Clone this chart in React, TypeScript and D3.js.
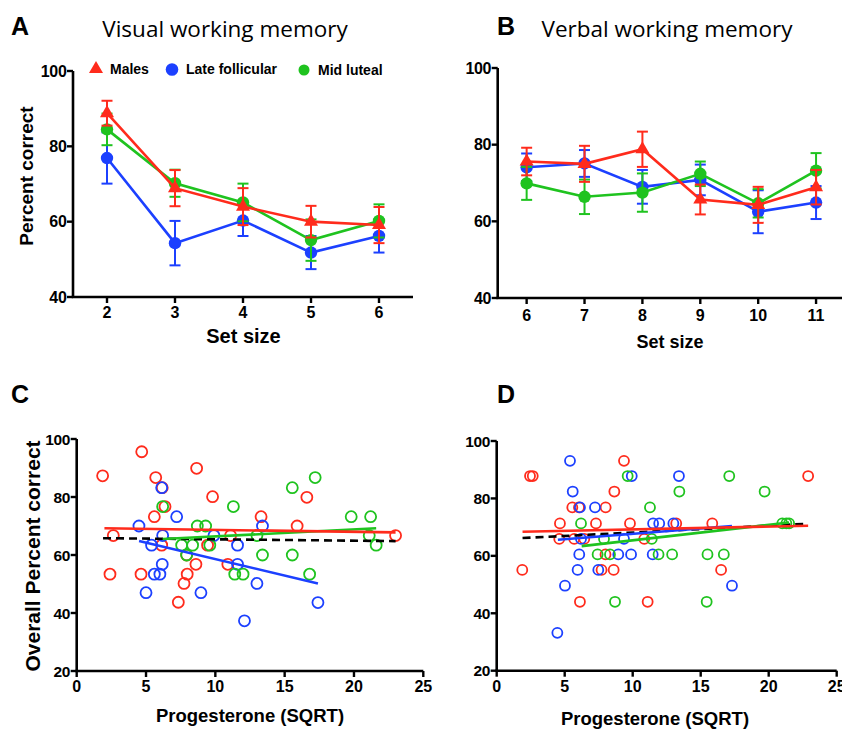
import React from "react";
import * as d3 from "d3";

const RED = "#ff2b1c";
const BLUE = "#1c40ff";
const GREEN = "#1fc31f";

// Panel A: visual working memory
const setSizesA = [2, 3, 4, 5, 6];
const malesA = [88.8, 68.9, 64.0, 60.0, 59.1];
const malesErrA = [3.3, 4.8, 4.9, 4.2, 4.8];
const lateFollA = [76.9, 54.3, 60.3, 51.8, 56.2];
const lateFollErrA = [6.8, 5.9, 4.1, 4.4, 4.4];
const midLutA = [84.5, 70.2, 65.1, 55.1, 60.2];
const midLutErrA = [4.2, 3.6, 5.0, 5.5, 4.4];

// Panel B: verbal working memory
const setSizesB = [6, 7, 8, 9, 10, 11];
const malesB = [75.6, 75.0, 78.8, 65.7, 64.3, 68.9];
const malesErrB = [3.6, 4.7, 4.6, 3.9, 4.7, 4.5];
const lateFollB = [74.1, 75.1, 69.0, 70.8, 62.5, 64.9];
const lateFollErrB = [3.6, 3.5, 4.4, 4.0, 5.6, 4.3];
const midLutB = [69.9, 66.4, 67.5, 72.4, 64.7, 73.2];
const midLutErrB = [4.3, 4.5, 5.0, 3.2, 3.7, 4.6];

const yTicksTop = [40, 60, 80, 100];
const yTicksBottom = [20, 40, 60, 80, 100];
const xTicksBottom = [0, 5, 10, 15, 20, 25];

// Panel C scatter [progesterone sqrt, overall percent]
const cMales: [number, number][] = [
  [1.87, 87.3], [4.69, 95.6], [2.64, 66.7], [2.4, 53.4], [5.7, 86.7], [6.17, 83.2],
  [6.37, 76.7], [5.6, 73.2], [8.65, 89.9], [9.8, 80.1], [6.13, 63.4], [7.93, 60],
  [4.64, 53.4], [8.6, 56.8], [7.97, 53.4], [7.74, 50.2], [7.33, 43.7], [9.44, 63.4],
  [11.1, 66.7], [10.9, 56.8], [13.3, 73.2], [16.6, 79.9], [15.9, 70], [23.0, 66.7],
];
const cLateFoll: [number, number][] = [
  [4.49, 70], [6.13, 83.2], [7.21, 73.2], [6.2, 66.7], [5.4, 63.4], [6.17, 56.8],
  [5.6, 53.4], [6.0, 53.4], [5.0, 47], [8.96, 47], [9.9, 66.7], [11.6, 63.4],
  [11.6, 56.8], [13.0, 50.2], [13.4, 70], [12.1, 37.3], [17.4, 43.6],
];
const cMidLut: [number, number][] = [
  [6.2, 76.7], [8.7, 70], [9.3, 70], [7.57, 63.4], [8.36, 63.4], [9.6, 63.4],
  [7.93, 60], [11.3, 76.7], [11.4, 53.4], [12.0, 53.4], [13.0, 66.7], [13.4, 60],
  [15.55, 83.2], [17.2, 86.7], [15.55, 60], [16.8, 53.4], [19.8, 73.2], [21.2, 73.2],
  [21.1, 66.7], [21.6, 63.4],
];
const cFitMales: [number, number][] = [[2.0, 69.2], [23.0, 67.8]];
const cFitAll: [number, number][] = [[1.9, 65.8], [23.0, 64.8]];
const cFitMidLut: [number, number][] = [[6.2, 65.5], [21.6, 69.2]];
const cFitLateFoll: [number, number][] = [[4.5, 64.8], [17.4, 50.2]];

// Panel D scatter
const dMales: [number, number][] = [
  [2.45, 87.8], [2.65, 87.8], [1.88, 55.1], [9.36, 93.1], [8.65, 82.4], [5.56, 76.9],
  [6.05, 76.9], [8.01, 76.9], [4.65, 71.3], [7.3, 71.3], [9.8, 71.3], [4.6, 65.9],
  [5.7, 65.9], [6.44, 65.9], [10.85, 65.9], [8.0, 60.5], [7.71, 55.1], [8.6, 55.1],
  [6.12, 44.0], [11.1, 44.0], [13.2, 71.3], [15.85, 71.3], [16.5, 55.1], [22.9, 87.8],
];
const dLateFoll: [number, number][] = [
  [5.39, 93.1], [5.59, 82.4], [9.93, 87.8], [6.12, 76.9], [7.23, 76.9], [6.2, 65.9],
  [9.36, 65.9], [11.5, 71.3], [11.95, 71.3], [12.99, 71.3], [6.07, 60.5], [8.94, 60.5],
  [9.88, 60.5], [11.47, 60.5], [5.95, 55.1], [7.47, 55.1], [5.02, 49.6], [13.4, 87.8],
  [17.3, 49.6], [4.46, 33.2],
];
const dMidLut: [number, number][] = [
  [9.63, 87.8], [11.27, 76.9], [6.2, 71.3], [7.89, 65.9], [11.4, 65.9], [7.42, 60.5],
  [8.33, 60.5], [11.9, 60.5], [12.9, 60.5], [15.5, 60.5], [16.7, 60.5], [8.7, 44],
  [15.44, 44], [17.1, 87.8], [13.43, 82.4], [19.7, 82.4], [21.0, 71.3], [21.3, 71.3],
  [21.5, 71.3],
];
const dFitMales: [number, number][] = [[1.9, 68.4], [22.9, 70.5]];
const dFitAll: [number, number][] = [[1.9, 66.2], [22.9, 71.2]];
const dFitMidLut: [number, number][] = [[6.25, 63.4], [21.5, 71.6]];
const dFitLateFoll: [number, number][] = [[4.5, 65.6], [17.3, 70.4]];

const legendItems = ["Males", "Late follicular", "Mid luteal"];

const NUM_FONT = "'Liberation Sans', Arial, sans-serif";
const TITLE_FONT = "'Open Sans', 'Noto Sans', sans-serif";

type Sc = d3.ScaleLinear<number, number>;

function YAxis({ x, y, ticks, size = 16 }: { x: Sc; y: Sc; ticks: number[]; size?: number }) {
  const x0 = x.range()[0];
  const [lo, hi] = d3.extent(ticks) as [number, number];
  return (
    <g>
      <line x1={x0} x2={x0} y1={y(lo)} y2={y(hi)} stroke="#000" strokeWidth={2.6} />
      {ticks.map((t) => (
        <g key={t}>
          <line x1={x0 - 6} x2={x0} y1={y(t)} y2={y(t)} stroke="#000" strokeWidth={2.4} />
          <text x={x0 - 6.5} y={y(t)} dy="0.36em" textAnchor="end" fontFamily={NUM_FONT}
            fontWeight="bold" fontSize={size} letterSpacing={-0.3}>{t}</text>
        </g>
      ))}
    </g>
  );
}

function XAxis({ x, y, ticks, labelY, size = 16, extendTo }: { x: Sc; y: Sc; ticks: number[]; labelY: number; size?: number; extendTo?: number }) {
  const y0 = y.range()[0];
  const [a, b] = x.range();
  return (
    <g>
      <line x1={a - 1.3} x2={extendTo ?? b} y1={y0} y2={y0} stroke="#000" strokeWidth={2.6} />
      {ticks.map((t) => (
        <g key={t}>
          <line x1={x(t)} x2={x(t)} y1={y0} y2={y0 + 6} stroke="#000" strokeWidth={2.4} />
          <text x={x(t)} y={labelY} textAnchor="middle" fontFamily={NUM_FONT}
            fontWeight="bold" fontSize={size}>{t}</text>
        </g>
      ))}
    </g>
  );
}

const tri = d3.symbol().type(d3.symbolTriangle).size(85)();

function Marker({ cx, cy, kind, color, r = 6.2 }: { cx: number; cy: number; kind: string; color: string; r?: number }) {
  if (kind === "tri") return <path d={tri as string} transform={`translate(${cx},${cy})`} fill={color} />;
  return <circle cx={cx} cy={cy} r={r} fill={color} />;
}

function Series({ x, y, xs, means, errs, color, kind }: { x: Sc; y: Sc; xs: number[]; means: number[]; errs: number[]; color: string; kind: string }) {
  const line = d3.line<number>().x((_, i) => x(xs[i])).y((d) => y(d));
  return (
    <g>
      {means.map((m, i) => (
        <g key={i} stroke={color} strokeWidth={2}>
          <line x1={x(xs[i])} x2={x(xs[i])} y1={y(m - errs[i])} y2={y(m + errs[i])} />
          <line x1={x(xs[i]) - 5.5} x2={x(xs[i]) + 5.5} y1={y(m - errs[i])} y2={y(m - errs[i])} />
          <line x1={x(xs[i]) - 5.5} x2={x(xs[i]) + 5.5} y1={y(m + errs[i])} y2={y(m + errs[i])} />
        </g>
      ))}
      <path d={line(means) as string} fill="none" stroke={color} strokeWidth={2.6} />
      {means.map((m, i) => (
        <Marker key={i} cx={x(xs[i])} cy={y(m)} kind={kind} color={color} />
      ))}
    </g>
  );
}

function Scatter({ x, y, pts, color, r }: { x: Sc; y: Sc; pts: [number, number][]; color: string; r: number }) {
  return (
    <g fill="none" stroke={color} strokeWidth={1.8}>
      {pts.map((p, i) => (
        <circle key={i} cx={x(p[0])} cy={y(p[1])} r={r} />
      ))}
    </g>
  );
}

function Fit({ x, y, pts, color, dash }: { x: Sc; y: Sc; pts: [number, number][]; color: string; dash?: string }) {
  const line = d3.line<[number, number]>().x((d) => x(d[0])).y((d) => y(d[1]));
  return <path d={line(pts) as string} fill="none" stroke={color} strokeWidth={2.6} strokeDasharray={dash} />;
}

export default function App() {
  const xA = d3.scaleLinear().domain([1.5, 6.5]).range([73, 413]);
  const yA = d3.scaleLinear().domain([40, 100]).range([297, 71]);
  const xB = d3.scaleLinear().domain([5.5, 11.5]).range([497.7, 845]);
  const yB = d3.scaleLinear().domain([40, 100]).range([298, 68]);
  const xC = d3.scaleLinear().domain([0, 25]).range([76.7, 423.3]);
  const yC = d3.scaleLinear().domain([20, 100]).range([671, 439]);
  const xD = d3.scaleLinear().domain([0, 25]).range([496.7, 836.7]);
  const yD = d3.scaleLinear().domain([20, 100]).range([670.7, 441]);

  const panelLetter = (t: string, px: number, py: number) => (
    <text x={px} y={py} fontFamily={NUM_FONT} fontWeight="bold" fontSize={25}>{t}</text>
  );

  return (
    <svg width={842} height={729} style={{ position: "absolute", left: 0, top: 0, background: "#fff" }}>
      <rect width={842} height={729} fill="#fff" />
      {/* Panel A */}
      {panelLetter("A", 11, 35)}
      <text x={225} y={37} textAnchor="middle" fontFamily={TITLE_FONT} fontSize={22.5}>Visual working memory</text>
      <YAxis x={xA} y={yA} ticks={yTicksTop} />
      <XAxis x={xA} y={yA} ticks={setSizesA} labelY={318} />
      <text x={243.5} y={343} textAnchor="middle" fontFamily={NUM_FONT} fontWeight="bold" fontSize={20}>Set size</text>
      <text transform="translate(33,176) rotate(-90)" textAnchor="middle" fontFamily={NUM_FONT} fontWeight="bold" fontSize={19}>Percent correct</text>
      <Series x={xA} y={yA} xs={setSizesA} means={lateFollA} errs={lateFollErrA} color={BLUE} kind="circle" />
      <Series x={xA} y={yA} xs={setSizesA} means={midLutA} errs={midLutErrA} color={GREEN} kind="circle" />
      <Series x={xA} y={yA} xs={setSizesA} means={malesA} errs={malesErrA} color={RED} kind="tri" />
      {/* Legend */}
      <Marker cx={96} cy={69} kind="tri" color={RED} />
      <text x={110} y={74} fontFamily={NUM_FONT} fontWeight="bold" fontSize={14}>{legendItems[0]}</text>
      <Marker cx={172} cy={69.5} kind="circle" color={BLUE} r={6.3} />
      <text x={186} y={74} fontFamily={NUM_FONT} fontWeight="bold" fontSize={14}>{legendItems[1]}</text>
      <Marker cx={304} cy={70} kind="circle" color={GREEN} r={5.5} />
      <text x={318} y={74.5} fontFamily={NUM_FONT} fontWeight="bold" fontSize={14}>{legendItems[2]}</text>

      {/* Panel B */}
      {panelLetter("B", 497, 35)}
      <text x={667} y={37} textAnchor="middle" fontFamily={TITLE_FONT} fontSize={22.5}>Verbal working memory</text>
      <YAxis x={xB} y={yB} ticks={yTicksTop} />
      <XAxis x={xB} y={yB} ticks={setSizesB} labelY={321} />
      <text x={670} y={348} textAnchor="middle" fontFamily={NUM_FONT} fontWeight="bold" fontSize={18}>Set size</text>
      <Series x={xB} y={yB} xs={setSizesB} means={lateFollB} errs={lateFollErrB} color={BLUE} kind="circle" />
      <Series x={xB} y={yB} xs={setSizesB} means={midLutB} errs={midLutErrB} color={GREEN} kind="circle" />
      <Series x={xB} y={yB} xs={setSizesB} means={malesB} errs={malesErrB} color={RED} kind="tri" />

      {/* Panel C */}
      {panelLetter("C", 11, 403)}
      <YAxis x={xC} y={yC} ticks={yTicksBottom} size={15.5} />
      <XAxis x={xC} y={yC} ticks={xTicksBottom} labelY={692} size={16} />
      <text x={250} y={722} textAnchor="middle" fontFamily={NUM_FONT} fontWeight="bold" fontSize={18.5}>Progesterone (SQRT)</text>
      <text transform="translate(40,556) rotate(-90)" textAnchor="middle" fontFamily={NUM_FONT} fontWeight="bold" fontSize={21}>Overall Percent correct</text>
      <Scatter x={xC} y={yC} pts={cMales} color={RED} r={5.5} />
      <Scatter x={xC} y={yC} pts={cLateFoll} color={BLUE} r={5.5} />
      <Scatter x={xC} y={yC} pts={cMidLut} color={GREEN} r={5.5} />
      <Fit x={xC} y={yC} pts={cFitAll} color="#000" dash="8,5" />
      <Fit x={xC} y={yC} pts={cFitMidLut} color={GREEN} />
      <Fit x={xC} y={yC} pts={cFitMales} color={RED} />
      <Fit x={xC} y={yC} pts={cFitLateFoll} color={BLUE} />

      {/* Panel D */}
      {panelLetter("D", 497, 403)}
      <YAxis x={xD} y={yD} ticks={yTicksBottom} size={15.5} />
      <XAxis x={xD} y={yD} ticks={xTicksBottom} labelY={692} size={16} />
      <text x={655} y={725} textAnchor="middle" fontFamily={NUM_FONT} fontWeight="bold" fontSize={18.5}>Progesterone (SQRT)</text>
      <Scatter x={xD} y={yD} pts={dMales} color={RED} r={5} />
      <Scatter x={xD} y={yD} pts={dLateFoll} color={BLUE} r={5} />
      <Scatter x={xD} y={yD} pts={dMidLut} color={GREEN} r={5} />
      <Fit x={xD} y={yD} pts={dFitAll} color="#000" dash="8,5" />
      <Fit x={xD} y={yD} pts={dFitLateFoll} color={BLUE} />
      <Fit x={xD} y={yD} pts={dFitMidLut} color={GREEN} />
      <Fit x={xD} y={yD} pts={dFitMales} color={RED} />
    </svg>
  );
}
